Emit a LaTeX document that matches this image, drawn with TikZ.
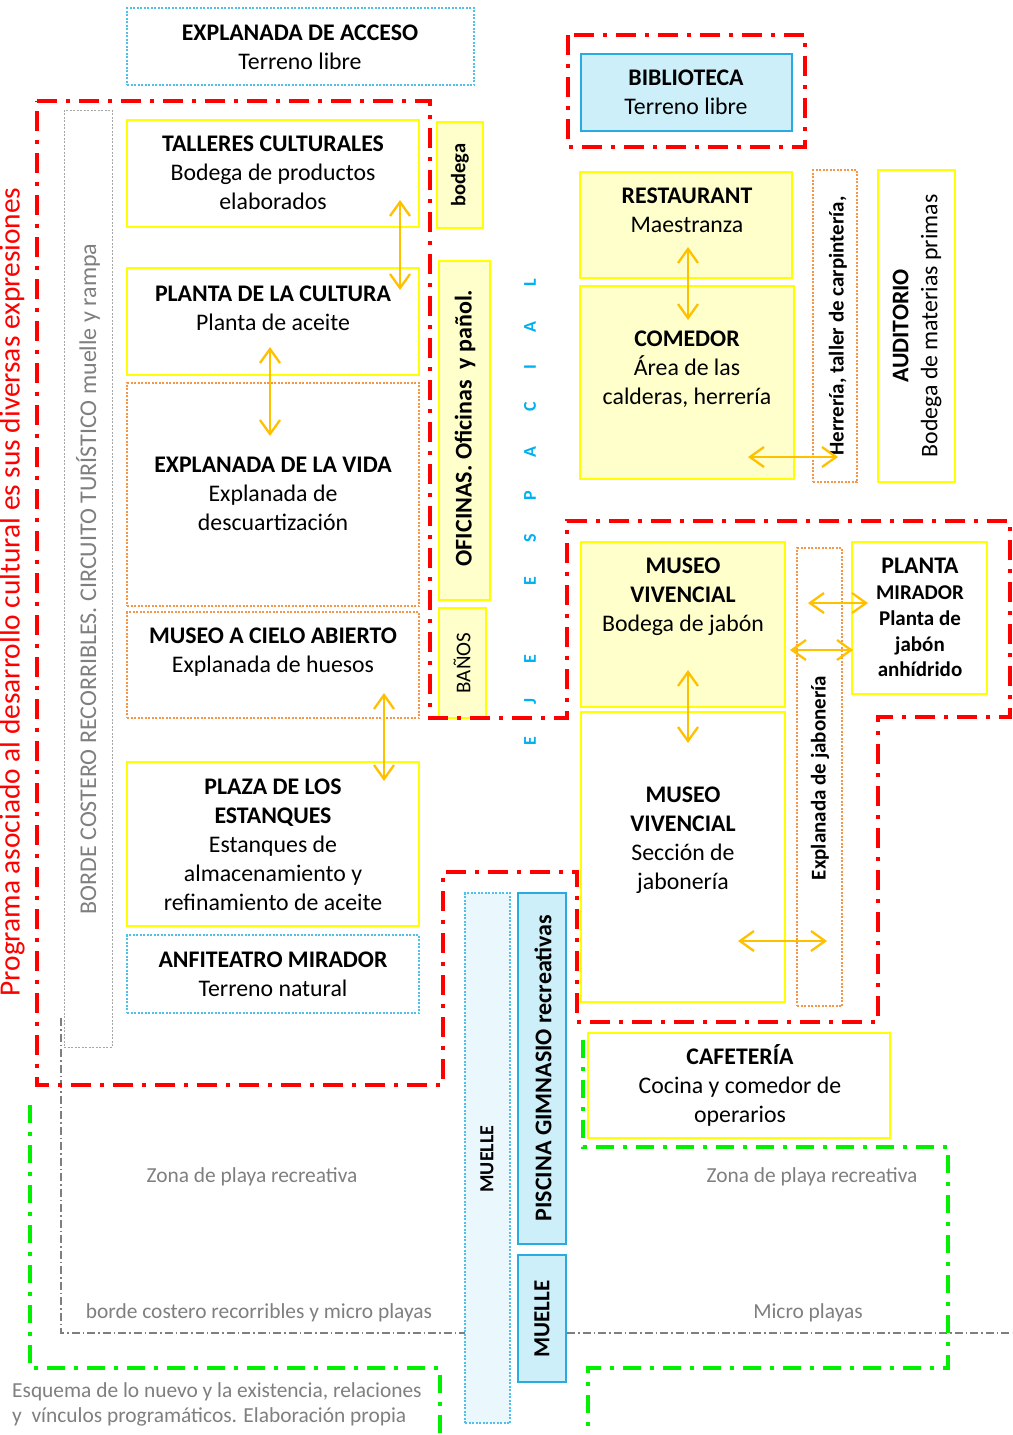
\documentclass[tikz,border=0pt]{standalone}
\usepackage{fontspec}
\setmainfont{Carlito}
\usetikzlibrary{arrows.meta}
\definecolor{rojo}{HTML}{FF0000}
\definecolor{verde}{HTML}{00F000}
\definecolor{gris}{HTML}{7F7F7F}
\definecolor{grisc}{HTML}{A6A6A6}
\definecolor{amar}{HTML}{FFFF00}
\definecolor{amarf}{HTML}{FFFFCC}
\definecolor{naran}{HTML}{F79646}
\definecolor{azul}{HTML}{29ABE2}
\definecolor{azulp}{HTML}{4FC1E9}
\definecolor{celf}{HTML}{CCEFFA}
\definecolor{celc}{HTML}{EAF7FD}
\definecolor{flecha}{HTML}{FFC000}
\definecolor{eje}{HTML}{00B0F0}
\newcommand\fA{\fontsize{23.8}{29}\selectfont}
\newcommand\fB{\fontsize{21}{25.8}\selectfont}
\newcommand\fG{\fontsize{21.4}{25}\selectfont}
\newcommand\bx[6]{\node[#2, inner sep=0pt, outer sep=0pt, anchor=north west, minimum width={(#5)-(#3)}, minimum height={(#6)-(#4)}] (#1) at (#3,#4) {};}
\tikzset{
 yb/.style={draw=amar, line width=1.3pt, fill=white},
 ybf/.style={draw=amar, line width=1.3pt, fill=amarf},
 od/.style={draw=naran, line width=1.1pt, dash pattern=on 2pt off 1.5pt},
 bd/.style={draw=azulp, line width=1.1pt, dash pattern=on 2pt off 1.5pt},
 gd/.style={draw=grisc, line width=1pt, dash pattern=on 2pt off 1.5pt},
 bs/.style={draw=azul, line width=2pt, fill=celf},
 t/.style={align=center, inner sep=0pt, anchor=north, yshift=12.8pt, font=\fA},
 r/.style={rotate=90, inner sep=0pt, anchor=center},
 ejel/.style={rotate=90, inner sep=0pt, anchor=center, text=eje, font=\fontsize{18}{20}\selectfont\bfseries},
 gt/.style={inner sep=0pt, anchor=center, text=gris, font=\fG},
 arr/.style={draw=flecha, line width=2.3pt, {Straight Barb[length=14pt,width=20pt]}-{Straight Barb[length=14pt,width=20pt]}},
 redl/.style={draw=rojo, line width=4pt, dash pattern=on 20pt off 9pt on 4pt off 9pt},
 grnl/.style={draw=verde, line width=4pt, dash pattern=on 18pt off 9pt on 4pt off 9pt},
 gryl/.style={draw=gris, line width=1.5pt, dash pattern=on 8pt off 3pt on 1.5pt off 3pt},
}
\begin{document}
\begin{tikzpicture}[x=1pt,y=-1pt]
\useasboundingbox (0,0) rectangle (1012,1435);
\fill[white] (0,0) rectangle (1012,1435);
% gray coast line
\draw[gryl] (61,1018) -- (61,1333) -- (465,1333);
\draw[gryl] (567,1333) -- (1012,1333);
% green zones
\draw[grnl] (30,1105) -- (30,1368) -- (440,1368) -- (440,1435);
\draw[grnl] (583,1040) -- (583,1147) -- (948,1147) -- (948,1368) -- (588,1368) -- (588,1435);
% boxes left
\bx{acceso}{bd}{127}{8}{474}{85}
\bx{borde}{gd}{64}{110}{112}{1047}
\bx{talleres}{yb}{127}{120}{419}{227}
\bx{pcultura}{yb}{127}{268}{419}{375}
\bx{vida}{od}{127}{383}{419}{606}
\bx{cielo}{od}{127}{612}{419}{718}
\bx{plaza}{yb}{127}{762}{419}{926}
\bx{anfi}{bd}{127}{935}{419}{1013}
\bx{bodega}{ybf}{437}{122}{483}{228}
\bx{oficinas}{ybf}{439}{261}{490}{600}
\bx{banos}{ybf}{439}{608}{486}{718}
% boxes right
\bx{biblio}{bs}{581}{54}{792}{131}
\bx{rest}{ybf}{580}{172}{792}{278}
\bx{comedor}{ybf}{580}{286}{794}{479}
\bx{herreria}{od}{813}{170}{857}{482}
\bx{audit}{yb}{878}{170}{955}{482}
\bx{museoA}{ybf}{581}{542}{785}{707}
\bx{museoB}{yb}{581}{712}{785}{1002}
\bx{expjab}{od}{797}{548}{842}{1006}
\bx{pmirador}{yb}{852}{542}{987}{694}
\bx{muelleA}{bd, fill=celc}{465}{893}{510}{1423}
\bx{piscina}{bs}{518}{893}{566}{1244}
\bx{muelleB}{bs}{518}{1255}{566}{1382}
\bx{cafe}{yb}{588}{1033}{890}{1138}
% red frames
\draw[redl] (37,101) -- (430,101) -- (430,718) -- (567,718) -- (567,521) -- (1010,521) -- (1010,717) -- (878,717) -- (878,1022) -- (577,1022) -- (577,872) -- (443,872) -- (443,1085) -- (37,1085) -- cycle;
\draw[redl] (568,35) rectangle (805,147);
% texts
\node[t] (tacceso) at (300,33) {\strut\textbf{EXPLANADA DE ACCESO}\\Terreno libre};
\node[t] (ttalleres) at (273,144) {\strut\textbf{TALLERES CULTURALES}\\Bodega de productos\\elaborados};
\node[t] (tpcultura) at (273,294) {\strut\textbf{PLANTA DE LA CULTURA}\\Planta de aceite};
\node[t] (tvida) at (273,465) {\strut\textbf{EXPLANADA DE LA VIDA}\\Explanada de\\descuartización};
\node[t] (tcielo) at (273,636) {\strut\textbf{MUSEO A CIELO ABIERTO}\\Explanada de huesos};
\node[t] (tplaza) at (273,787) {\strut\textbf{PLAZA DE LOS}\\\textbf{ESTANQUES}\\Estanques de\\almacenamiento y\\refinamiento de aceite};
\node[t] (tanfi) at (273,960) {\strut\textbf{ANFITEATRO MIRADOR}\\Terreno natural};
\node[t] (tbiblio) at (686,78) {\strut\textbf{BIBLIOTECA}\\Terreno libre};
\node[t] (trest) at (687,196) {\strut\textbf{RESTAURANT}\\Maestranza};
\node[t] (tcomedor) at (687,339) {\strut\textbf{COMEDOR}\\Área de las\\calderas, herrería};
\node[t] (tmuseoA) at (683,566) {\strut\textbf{MUSEO}\\\textbf{VIVENCIAL}\\Bodega de jabón};
\node[t] (tmuseoB) at (683,795) {\strut\textbf{MUSEO}\\\textbf{VIVENCIAL}\\Sección de\\jabonería};
\node[t, font=\fB\bfseries, yshift=-2.3pt] (tpmirador) at (920,566) {\strut{\fA PLANTA}\\MIRADOR\\Planta de\\jabón\\anhídrido};
\node[t] (tcafe) at (740,1057) {\strut\textbf{CAFETERÍA}\\Cocina y comedor de\\operarios};
% rotated texts
\node[r, text=rojo, font=\fontsize{29.4}{32}\selectfont] (tprog) at (12,592) {Programa asociado al desarrollo cultural es sus diversas expresiones};
\node[r, text=gris, font=\fontsize{24}{28}\selectfont] (tborde) at (88,579) {BORDE COSTERO RECORRIBLES. CIRCUITO TURÍSTICO muelle y rampa};
\node[r, font=\fontsize{20.5}{24}\selectfont\bfseries] (tbodega) at (460,175) {bodega};
\node[r, font=\fontsize{24}{28}\selectfont\bfseries] (toficinas) at (465,428) {OFICINAS. Oficinas\ \ y pañol.};
\node[r, font=\fontsize{21}{24}\selectfont] (tbanos) at (462,663) {BAÑOS};
\node[r, font=\fontsize{21}{24}\selectfont\bfseries] (therreria) at (838,326) {Herrería, taller de carpintería,};
\node[r, align=center, font=\fA] (taudit) at (917,326) {\textbf{AUDITORIO}\\Bodega de materias primas};
\node[r, font=\fontsize{21}{24}\selectfont\bfseries] (texpjab) at (820,778) {Explanada de jabonería};
\node[r, font=\fontsize{20}{24}\selectfont\bfseries] (tmuelleA) at (487,1159) {MUELLE};
\node[r, font=\fontsize{24}{28}\selectfont\bfseries] (tpiscina) at (543,1068) {PISCINA GIMNASIO recreativas};
\node[r, font=\fontsize{23}{26}\selectfont\bfseries] (tmuelleB) at (542,1319) {MUELLE};
% eje espacial
\node[ejel] (e1) at (530,283) {L};
\node[ejel] (e2) at (530,327) {A};
\node[ejel] (e3) at (530,367) {I};
\node[ejel] (e4) at (530,407) {C};
\node[ejel] (e5) at (530,452) {A};
\node[ejel] (e6) at (530,496) {P};
\node[ejel] (e7) at (530,538) {S};
\node[ejel] (e8) at (530,581) {E};
\node[ejel] (e9) at (530,659) {E};
\node[ejel] (e10) at (530,702) {J};
\node[ejel] (e11) at (530,741) {E};
% gray labels
\node[gt] (zona1) at (252,1177) {Zona de playa recreativa};
\node[gt] (zona2) at (812,1177) {Zona de playa recreativa};
\node[gt] (borde2) at (259,1313) {borde costero recorribles y micro playas};
\node[gt] (micro) at (808,1313) {Micro playas};
\node[t, anchor=north west, align=left, font=\fG, text=gris, yshift=-1.9pt] (esquema) at (12,1391) {\strut Esquema de lo nuevo y la existencia, relaciones\\y\ \ vínculos programáticos. Elaboración propia};
% arrows
\coordinate (a1s) at (400,200); \coordinate (a1e) at (400,290);
\coordinate (a2s) at (270,347); \coordinate (a2e) at (270,436);
\coordinate (a3s) at (384,693); \coordinate (a3e) at (384,781);
\coordinate (a4s) at (688,247); \coordinate (a4e) at (688,320);
\coordinate (a5s) at (748,457); \coordinate (a5e) at (838,457);
\coordinate (a6s) at (808,603); \coordinate (a6e) at (868,603);
\coordinate (a7s) at (790,650); \coordinate (a7e) at (853,650);
\coordinate (a8s) at (688,670); \coordinate (a8e) at (688,743);
\coordinate (a9s) at (738,941); \coordinate (a9e) at (827,941);
\foreach \i in {1,...,9} {\draw[arr] (a\i s) -- (a\i e);}
\end{tikzpicture}
\end{document}
